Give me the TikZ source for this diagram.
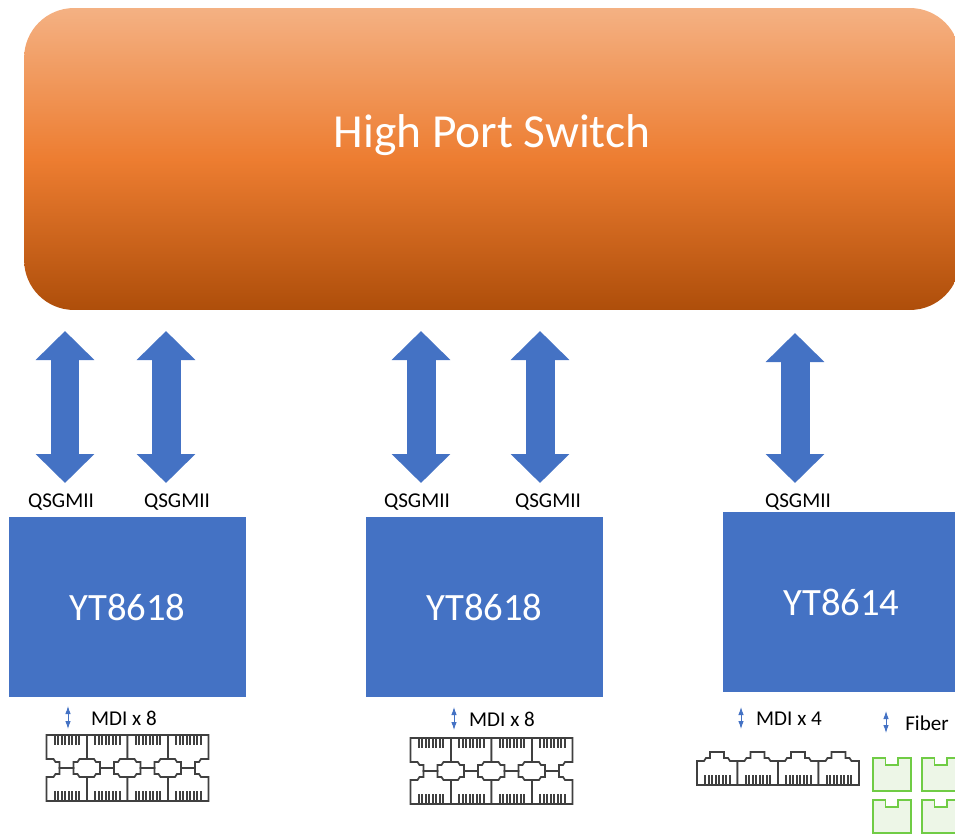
\documentclass[tikz,border=0pt]{standalone}
\usepackage{fontspec}
\setmainfont{Carlito}
\usetikzlibrary{arrows.meta}

\definecolor{chipblue}{HTML}{4472C4}
\definecolor{hpstop}{HTML}{F4B183}
\definecolor{hpsmid}{HTML}{ED7D31}
\definecolor{hpsbot}{HTML}{AE4E0A}
\definecolor{portgray}{HTML}{404040}
\definecolor{fiberline}{HTML}{70CC45}
\definecolor{fiberfill}{HTML}{EDF6E7}

\tikzset{
  chipbox/.style={fill=chipblue, text=white, minimum width=4.74cm, minimum height=3.6cm, inner sep=0pt, font=\fontsize{22}{26}\selectfont},
  biglink/.style={chipblue, line width=0.58cm, {Triangle[length=0.58cm,width=1.14cm]}-{Triangle[length=0.58cm,width=1.14cm]}},
  smalllink/.style={chipblue, line width=0.5pt, {Latex[length=1.6mm,width=1.1mm]}-{Latex[length=1.6mm,width=1.1mm]}},
  smalltext/.style={inner sep=0pt, font=\fontsize{12}{14}\selectfont},
  rjport/.pic={
    \draw[portgray, line width=1pt, fill=white] (0,33) -- (0,9) -- (7,9) -- (9,6) -- (13,6) -- (13,0) -- (27,0) -- (27,6) -- (31,6) -- (33,9) -- (40.5,9) -- (40.5,33) -- cycle ;
    \foreach \i in {0,...,7}
      \fill[portgray] (7+\i*3.5,23) rectangle ++(2,9) ;
  },
  fiberport/.pic={
    \draw[fiberline, line width=1.1pt, fill=fiberfill] (0,0) -- (12.5,0) -- (12.5,7) -- (25,7) -- (25,0) -- (38,0) -- (38,33) -- (0,33) -- cycle ;
  },
}

\begin{document}
\begin{tikzpicture}[x=0.02cm, y=-0.02cm]
  \useasboundingbox (0,0) rectangle (955,835) ;
  \clip (0,0) rectangle (955,835) ;

  \node (hps) [rounded corners=1cm, top color=hpstop, bottom color=hpsbot, middle color=hpsmid, minimum width=18.72cm, minimum height=6.04cm, inner sep=0pt] at (492,159) {} ;
  \node (hpslabel) [text=white, inner sep=0pt, font=\fontsize{27}{32}\selectfont] at (492,135) {High Port Switch} ;

  \node (chipa) [chipbox] at (127.5,607) {YT8618} ;
  \node (chipb) [chipbox] at (484.5,607) {YT8618} ;
  \node (chipc) [chipbox] at (841.5,602) {YT8614} ;

  \coordinate (qat) at (65,331) ;   \coordinate (qab) at (65,483) ;
  \coordinate (qbt) at (166,331) ;  \coordinate (qbb) at (166,483) ;
  \coordinate (qct) at (421,331) ;  \coordinate (qcb) at (421,483) ;
  \coordinate (qdt) at (540,331) ;  \coordinate (qdb) at (540,483) ;
  \coordinate (qet) at (795,333) ;  \coordinate (qeb) at (795,483) ;
  \draw[biglink] (qat) -- (qab) ;
  \draw[biglink] (qbt) -- (qbb) ;
  \draw[biglink] (qct) -- (qcb) ;
  \draw[biglink] (qdt) -- (qdb) ;
  \draw[biglink] (qet) -- (qeb) ;

  \node (qlaba) [smalltext] at (61,502) {QSGMII} ;
  \node (qlabb) [smalltext] at (177,502) {QSGMII} ;
  \node (qlabc) [smalltext] at (417,502) {QSGMII} ;
  \node (qlabd) [smalltext] at (548,502) {QSGMII} ;
  \node (qlabe) [smalltext] at (798,502) {QSGMII} ;

  \coordinate (mat) at (68,706) ;   \coordinate (mab) at (68,729) ;
  \coordinate (mbt) at (454,707) ;  \coordinate (mbb) at (454,730) ;
  \coordinate (mct) at (741,707) ;  \coordinate (mcb) at (741,729) ;
  \coordinate (fat) at (886,711) ;  \coordinate (fab) at (886,733) ;
  \draw[smalllink] (mat) -- (mab) ;
  \draw[smalllink] (mbt) -- (mbb) ;
  \draw[smalllink] (mct) -- (mcb) ;
  \draw[smalllink] (fat) -- (fab) ;

  \node (mlaba) [smalltext] at (124,718) {MDI x 8} ;
  \node (mlabb) [smalltext] at (502,719) {MDI x 8} ;
  \node (mlabc) [smalltext] at (789,719) {MDI x 4} ;
  \node (flab) [smalltext] at (927,723) {Fiber} ;

  \foreach \n in {0,1,2,3} {
    \pic at (46.5+\n*40.5,768) {rjport} ;
    \pic[yscale=-1] at (46.5+\n*40.5,768) {rjport} ;
    \pic at (410.5+\n*40.5,771) {rjport} ;
    \pic[yscale=-1] at (410.5+\n*40.5,771) {rjport} ;
    \pic at (697+\n*40.5,752) {rjport} ;
  }

  \pic at (873,758) {fiberport} ;
  \pic at (922,758) {fiberport} ;
  \pic at (873,800) {fiberport} ;
  \pic at (922,800) {fiberport} ;
\end{tikzpicture}
\end{document}
